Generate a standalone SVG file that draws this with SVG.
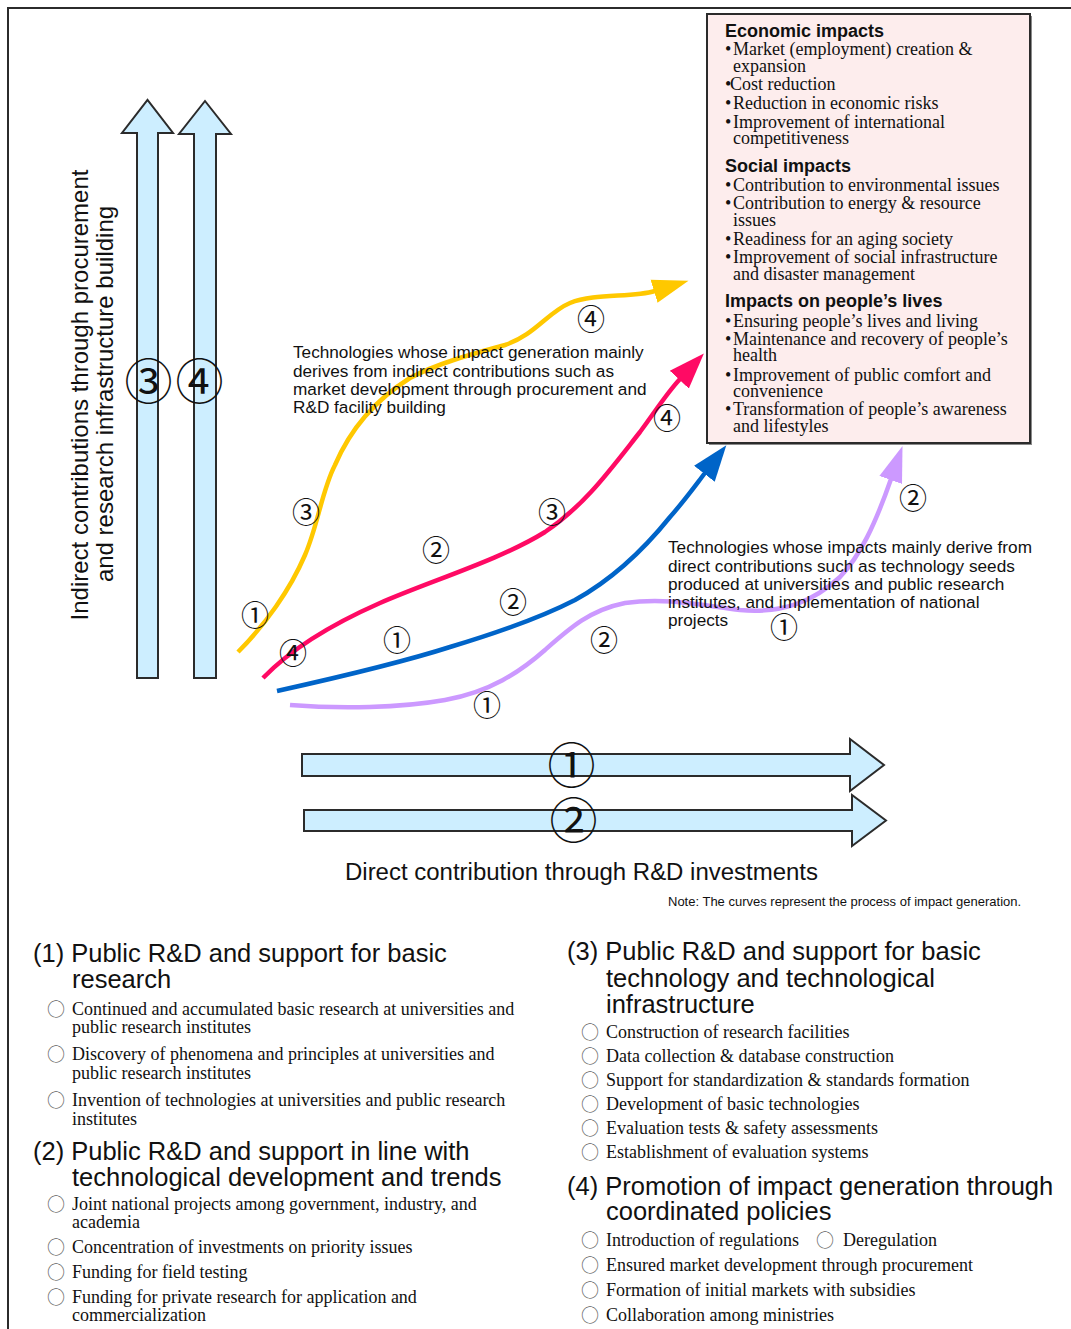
<svg xmlns="http://www.w3.org/2000/svg" width="1071" height="1329" viewBox="0 0 1071 1329">
  <style>
    .frame { fill: none; stroke: #2b2b2b; stroke-width: 2; }
    .box { fill: #fdeded; stroke: #2b2b2b; stroke-width: 2; }
    .shadow { fill: #8a8a8a; }
    .blk { fill: #cdeeff; stroke: #2b2b2b; stroke-width: 2; stroke-linejoin: miter; }
    .sans { font-family: "Liberation Sans", Arial, sans-serif; fill: #111; }
    .bold { font-family: "Liberation Sans", Arial, sans-serif; font-weight: bold; font-size: 18px; fill: #111; }
    .serif { font-family: "Liberation Serif", "Times New Roman", serif; font-size: 18px; fill: #111; }
    .num { font-family: "Noto Sans CJK JP", "DejaVu Sans", sans-serif; text-anchor: middle; fill: #111; }
    .sm { font-size: 28px; }
    .lg { font-size: 48px; }
    .bul { font-family: "Noto Sans CJK JP", "DejaVu Sans", sans-serif; font-size: 18px; fill: #666; text-anchor: middle; }
    .curve { fill: none; stroke-width: 4.5; stroke-linecap: butt; }
    .note { font-size: 17.2px; }
    .head { font-size: 25.5px; }
  </style>
  <defs>
    <marker id="ah-yellow" markerUnits="userSpaceOnUse" viewBox="0 -14 38 28" markerWidth="38" markerHeight="28" refX="1" refY="0" orient="auto">
      <path d="M0,-12 L36,0 L0,12 z" fill="#ffc800"/>
    </marker>
    <marker id="ah-pink" markerUnits="userSpaceOnUse" viewBox="0 -14 38 28" markerWidth="38" markerHeight="28" refX="1" refY="0" orient="auto">
      <path d="M0,-13 L36,0 L0,13 z" fill="#ff0a64"/>
    </marker>
    <marker id="ah-blue" markerUnits="userSpaceOnUse" viewBox="0 -14 38 28" markerWidth="38" markerHeight="28" refX="1" refY="0" orient="auto">
      <path d="M0,-13 L36,0 L0,13 z" fill="#0064c8"/>
    </marker>
    <marker id="ah-purple" markerUnits="userSpaceOnUse" viewBox="0 -14 38 28" markerWidth="38" markerHeight="28" refX="1" refY="0" orient="auto">
      <path d="M0,-12 L36,0 L0,12 z" fill="#cc99ff"/>
    </marker>
  </defs>

  <rect width="1071" height="1329" fill="#fff"/>
  <!-- outer frame: top and left edges only -->
  <path class="frame" d="M1071,8 H8 V1329"/>

  <!-- impacts box -->
  <g id="impacts">
    <rect class="shadow" x="709" y="16" width="323" height="429"/>
    <rect class="box" x="707" y="14" width="323" height="429"/>
    <text class="bold" x="725" y="37">Economic impacts</text>
    <text class="serif" x="725" y="55">•<tspan x="733">Market (employment) creation &amp;</tspan></text>
    <text class="serif" x="733" y="72">expansion</text>
    <text class="serif" x="725" y="90">•<tspan x="730">Cost reduction</tspan></text>
    <text class="serif" x="725" y="109">•<tspan x="733">Reduction in economic risks</tspan></text>
    <text class="serif" x="725" y="128">•<tspan x="733">Improvement of international</tspan></text>
    <text class="serif" x="733" y="144">competitiveness</text>
    <text class="bold" x="725" y="172">Social impacts</text>
    <text class="serif" x="725" y="191">•<tspan x="733">Contribution to environmental issues</tspan></text>
    <text class="serif" x="725" y="209">•<tspan x="733">Contribution to energy &amp; resource</tspan></text>
    <text class="serif" x="733" y="226">issues</text>
    <text class="serif" x="725" y="245">•<tspan x="733">Readiness for an aging society</tspan></text>
    <text class="serif" x="725" y="263">•<tspan x="733">Improvement of social infrastructure</tspan></text>
    <text class="serif" x="733" y="280">and disaster management</text>
    <text class="bold" x="725" y="307">Impacts on people’s lives</text>
    <text class="serif" x="725" y="327">•<tspan x="733">Ensuring people’s lives and living</tspan></text>
    <text class="serif" x="725" y="345">•<tspan x="733">Maintenance and recovery of people’s</tspan></text>
    <text class="serif" x="733" y="361">health</text>
    <text class="serif" x="725" y="381">•<tspan x="733">Improvement of public comfort and</tspan></text>
    <text class="serif" x="733" y="397">convenience</text>
    <text class="serif" x="725" y="415">•<tspan x="733">Transformation of people’s awareness</tspan></text>
    <text class="serif" x="733" y="432">and lifestyles</text>
  </g>

  <!-- vertical block arrows (3) and (4) -->
  <g id="arrow-indirect">
    <path class="blk" d="M137,678 V133 H122 L147.5,100 L173,133 H158 V678 Z"/>
    <path class="blk" d="M194,678 V134 H179 L205,101 L231,134 H216 V678 Z"/>
    <text class="num lg" x="148.5" y="399">③</text>
    <text class="num lg" x="199.5" y="399">④</text>
    <text class="sans" font-size="24" text-anchor="middle" transform="translate(88,395) rotate(-90)">Indirect contributions through procurement</text>
    <text class="sans" font-size="24" text-anchor="middle" transform="translate(113,394) rotate(-90)">and research infrastructure building</text>
  </g>

  <!-- horizontal block arrows (1) and (2) -->
  <g id="arrow-direct">
    <path class="blk" d="M302,754 H850 V739 L884,765 L850,791 V776 H302 Z"/>
    <path class="blk" d="M304,810 H852 V795 L886,820.5 L852,846 V831 H304 Z"/>
    <text class="num lg" x="571.5" y="783">①</text>
    <text class="num lg" x="573.5" y="838">②</text>
    <text class="sans" font-size="23.5" x="345" y="880" textLength="473" lengthAdjust="spacingAndGlyphs">Direct contribution through R&amp;D investments</text>
  </g>

  <text class="sans" font-size="13" x="668" y="906">Note: The curves represent the process of impact generation.</text>

  <!-- impact generation curves -->
  <g id="connectors">
    <path class="curve" stroke="#ffc800" marker-end="url(#ah-yellow)" d="M238,652 C265,625 290,590 305,555 C318,525 322,490 335,465 C350,430 375,400 410,378 C440,362 480,352 505,345 C535,335 548,312 570,303 C595,293 632,298 655,291"/>
    <path class="curve" stroke="#ff0a64" marker-end="url(#ah-pink)" d="M263,678 C290,650 330,625 380,603 C430,581 500,560 545,532 C585,505 610,470 640,432 C655,412 666,394 680,379"/>
    <path class="curve" stroke="#0064c8" marker-end="url(#ah-blue)" d="M277,691 C340,677 400,663 450,647 C500,632 540,618 575,600 C615,578 645,548 670,517 C685,500 695,486 705,473"/>
    <path class="curve" stroke="#cc99ff" marker-end="url(#ah-purple)" d="M290,705 C340,709 400,708 445,700 C490,692 520,672 545,650 C570,628 590,610 625,603 C665,597 700,605 740,610 C785,614 815,600 840,577 C860,556 875,525 891,479"/>
  </g>

  <!-- stage labels along the curves -->
  <g id="curve-labels">
    <text class="num sm" x="255" y="626">①</text>
    <text class="num sm" x="306" y="523">③</text>
    <text class="num sm" x="591" y="330">④</text>
    <text class="num sm" x="293" y="664">④</text>
    <text class="num sm" x="436" y="561">②</text>
    <text class="num sm" x="552" y="523">③</text>
    <text class="num sm" x="667" y="429">④</text>
    <text class="num sm" x="397" y="651">①</text>
    <text class="num sm" x="513" y="613">②</text>
    <text class="num sm" x="487" y="716">①</text>
    <text class="num sm" x="604" y="651">②</text>
    <text class="num sm" x="784" y="638">①</text>
    <text class="num sm" x="913" y="509">②</text>
  </g>

  <g id="note-indirect">
    <text class="sans note" x="293" y="358">Technologies whose impact generation mainly</text>
    <text class="sans note" x="293" y="377">derives from indirect contributions such as</text>
    <text class="sans note" x="293" y="395">market development through procurement and</text>
    <text class="sans note" x="293" y="413">R&amp;D facility building</text>
  </g>

  <g id="note-direct">
    <text class="sans note" x="668" y="553">Technologies whose impacts mainly derive from</text>
    <text class="sans note" x="668" y="572">direct contributions such as technology seeds</text>
    <text class="sans note" x="668" y="590">produced at universities and public research</text>
    <text class="sans note" x="668" y="608">institutes, and implementation of national</text>
    <text class="sans note" x="668" y="626">projects</text>
  </g>

  <!-- policy lists -->
  <g id="policy-1">
    <text class="sans head" x="33" y="962">(1) Public R&amp;D and support for basic</text>
    <text class="sans head" x="72" y="988">research</text>
    <text class="bul" x="56" y="1016">○</text>
    <text class="serif" x="72" y="1015">Continued and accumulated basic research at universities and</text>
    <text class="serif" x="72" y="1033">public research institutes</text>
    <text class="bul" x="56" y="1061">○</text>
    <text class="serif" x="72" y="1060">Discovery of phenomena and principles at universities and</text>
    <text class="serif" x="72" y="1079">public research institutes</text>
    <text class="bul" x="56" y="1107">○</text>
    <text class="serif" x="72" y="1106">Invention of technologies at universities and public research</text>
    <text class="serif" x="72" y="1125">institutes</text>
  </g>

  <g id="policy-2">
    <text class="sans head" x="33" y="1160">(2) Public R&amp;D and support in line with</text>
    <text class="sans head" x="72" y="1186">technological development and trends</text>
    <text class="bul" x="56" y="1211">○</text>
    <text class="serif" x="72" y="1210">Joint national projects among government, industry, and</text>
    <text class="serif" x="72" y="1228">academia</text>
    <text class="bul" x="56" y="1254">○</text>
    <text class="serif" x="72" y="1253">Concentration of investments on priority issues</text>
    <text class="bul" x="56" y="1279">○</text>
    <text class="serif" x="72" y="1278">Funding for field testing</text>
    <text class="bul" x="56" y="1304">○</text>
    <text class="serif" x="72" y="1303">Funding for private research for application and</text>
    <text class="serif" x="72" y="1321">commercialization</text>
  </g>

  <g id="policy-3">
    <text class="sans head" x="567" y="960">(3) Public R&amp;D and support for basic</text>
    <text class="sans head" x="606" y="987">technology and technological</text>
    <text class="sans head" x="606" y="1013">infrastructure</text>
    <text class="bul" x="590" y="1039">○</text>
    <text class="serif" x="606" y="1038">Construction of research facilities</text>
    <text class="bul" x="590" y="1063">○</text>
    <text class="serif" x="606" y="1062">Data collection &amp; database construction</text>
    <text class="bul" x="590" y="1087">○</text>
    <text class="serif" x="606" y="1086">Support for standardization &amp; standards formation</text>
    <text class="bul" x="590" y="1111">○</text>
    <text class="serif" x="606" y="1110">Development of basic technologies</text>
    <text class="bul" x="590" y="1135">○</text>
    <text class="serif" x="606" y="1134">Evaluation tests &amp; safety assessments</text>
    <text class="bul" x="590" y="1159">○</text>
    <text class="serif" x="606" y="1158">Establishment of evaluation systems</text>
  </g>

  <g id="policy-4">
    <text class="sans head" x="567" y="1195">(4) Promotion of impact generation through</text>
    <text class="sans head" x="606" y="1220">coordinated policies</text>
    <text class="bul" x="590" y="1247">○</text>
    <text class="serif" x="606" y="1246">Introduction of regulations</text>
    <text class="bul" x="825" y="1247">○</text>
    <text class="serif" x="843" y="1246">Deregulation</text>
    <text class="bul" x="590" y="1272">○</text>
    <text class="serif" x="606" y="1271">Ensured market development through procurement</text>
    <text class="bul" x="590" y="1297">○</text>
    <text class="serif" x="606" y="1296">Formation of initial markets with subsidies</text>
    <text class="bul" x="590" y="1322">○</text>
    <text class="serif" x="606" y="1321">Collaboration among ministries</text>
  </g>
</svg>
